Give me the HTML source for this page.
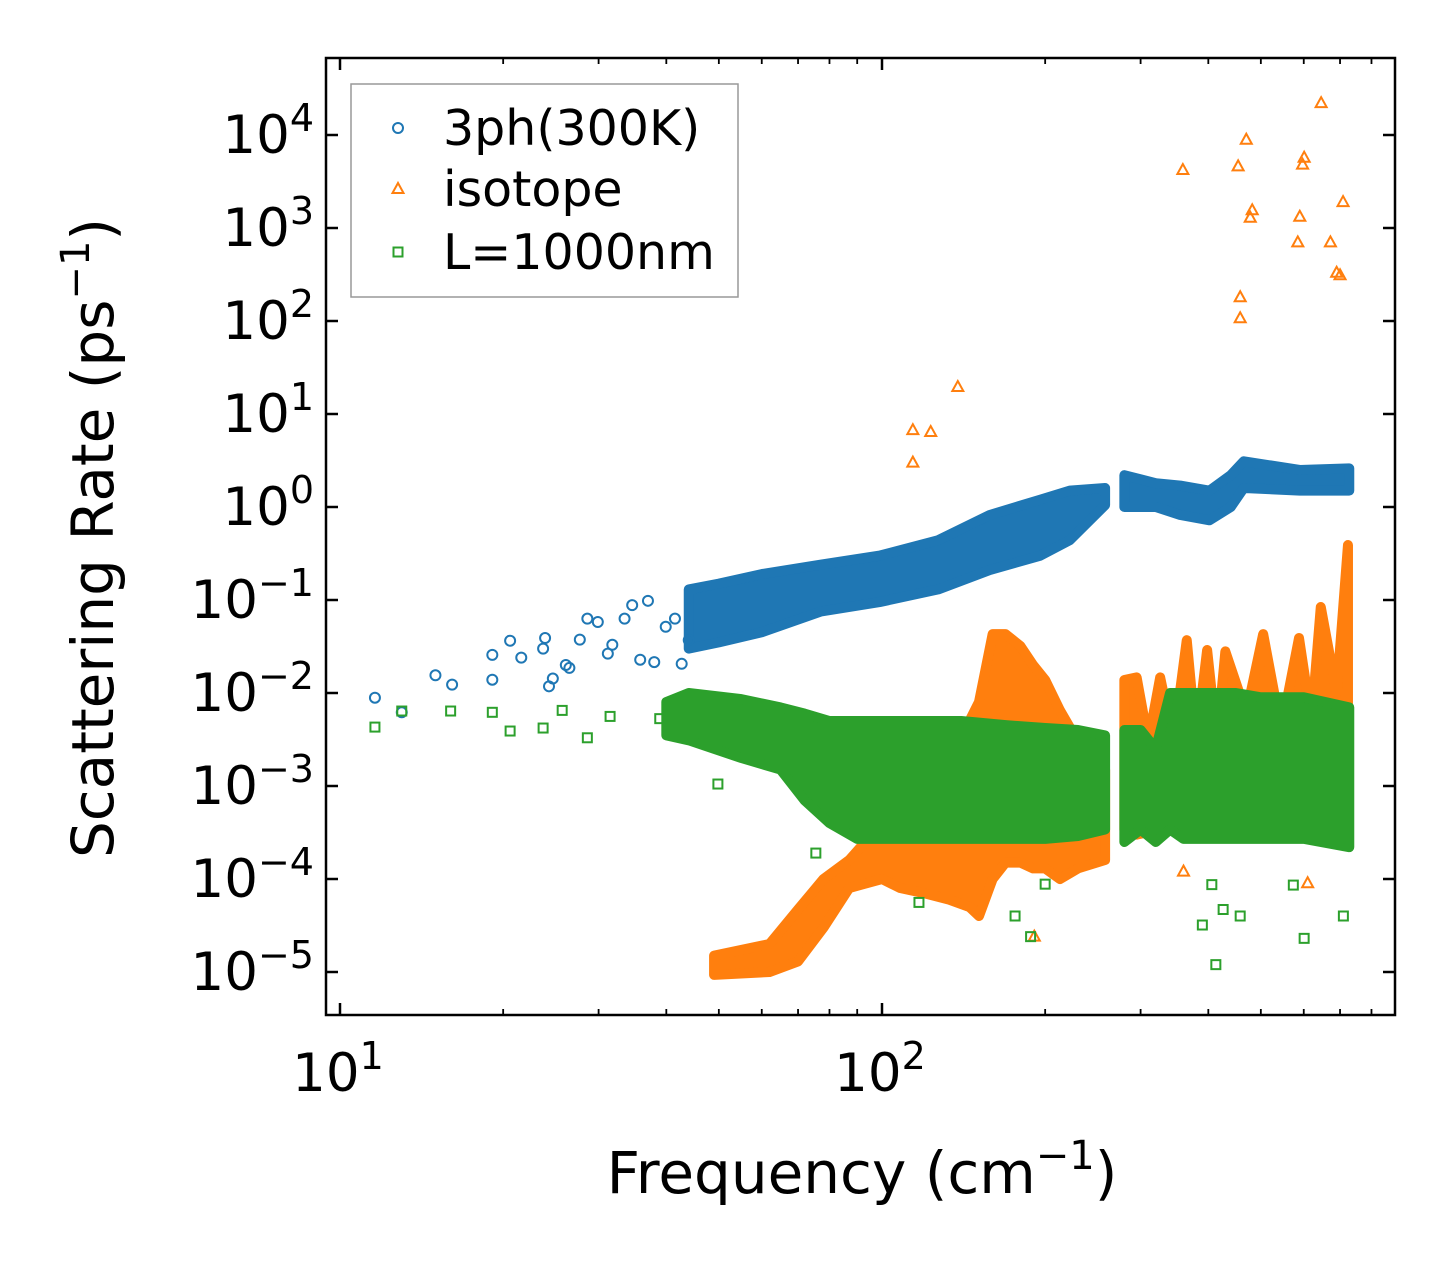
<!DOCTYPE html>
<html><head><meta charset="utf-8"><style>
body{margin:0;background:#fff;}
svg{display:block;font-family:"DejaVu Sans","Liberation Sans",sans-serif;}
</style></head><body>
<svg id="chart" width="1455" height="1265" viewBox="0 0 1455 1265"></svg>
<script>
// ---- data ----
const blueFreq=[11.6,13,15,16.1,19.1,19.1,20.6,21.6,23.7,23.9,24.3,24.7,26.1,26.5,27.7,28.6,29.9,31.2,31.8,33.5,34.6,35.8,38,37,39.9,42.7,41.5,44];
const blueVal=[0.0089,0.0062,0.0155,0.0123,0.0139,0.0257,0.0365,0.024,0.030,0.039,0.0118,0.0143,0.020,0.0186,0.0375,0.063,0.058,0.0265,0.033,0.063,0.088,0.0228,0.0215,0.098,0.0515,0.0206,0.063,0.037];
const blueBandFreq=[[44,50,60,77,99,127,158,196,222,258],[280,320,355,402,440,465,590,728]];
const blueBandLo=[[0.03,0.035,0.045,0.075,0.095,0.13,0.21,0.30,0.44,1.05],[1.0,1.0,0.82,0.72,1.0,1.6,1.5,1.5]];
const blueBandHi=[[0.13,0.15,0.19,0.24,0.30,0.44,0.82,1.2,1.5,1.6],[2.2,1.8,1.7,1.5,2.2,3.1,2.5,2.6]];
const orangeFreq=[114,123,114,138,359,454,470,482,478,646,601,597,590,585,709,672,690,700,458,458,191,360,610];
const orangeVal=[6.7,6.4,3.0,19.5,4200,4600,8900,1550,1290,22000,5700,4800,1320,700,1900,700,330,310,180,107,2.4e-5,1.2e-4,9e-5];
const orangeBandFreq=[[49,62,70,78,87,100,108,120,133,145,151,160,169,180,190,200,213,230,258],[280,295,310,326,345,365,380,398,415,430,470,505,545,588,620,645,690,724]];
const orangeBandLo=[[9.3e-6,1.0e-5,1.3e-5,3e-5,8e-5,1e-4,8e-5,7e-5,6e-5,5e-5,4e-5,1e-4,1.5e-4,1.5e-4,1.3e-4,1.3e-4,1e-4,1.3e-4,1.6e-4],[3.4e-4,3e-4,3.2e-4,3.4e-4,3.4e-4,3.4e-4,3.4e-4,3.3e-4,3.4e-4,3.4e-4,3.4e-4,3.4e-4,3.4e-4,3.4e-4,3.4e-4,3.4e-4,3.4e-4,3.4e-4]];
const orangeBandHi=[[1.5e-5,2e-5,4.7e-5,1e-4,1.6e-4,4e-4,1.2e-3,2.5e-3,3.8e-3,5e-3,8e-3,0.043,0.043,0.032,0.02,0.0138,0.0065,3e-3,1.5e-3],[0.0138,0.0147,3e-3,0.0147,3e-3,0.037,0.003,0.029,0.003,0.028,0.006,0.043,0.004,0.039,0.005,0.084,0.01,0.39]];
const greenFreq=[11.6,13,16,19.1,20.6,23.7,25.7,28.6,31.5,38.9,49.8,75.5,117,176,188,200,413,601,710,426,390,458,406,574];
const greenVal=[4.3e-3,6.4e-3,6.4e-3,6.2e-3,3.9e-3,4.2e-3,6.5e-3,3.3e-3,5.6e-3,5.3e-3,1.05e-3,1.9e-4,5.6e-5,4e-5,2.4e-5,8.8e-5,1.2e-5,2.3e-5,4e-5,4.7e-5,3.2e-5,4e-5,8.7e-5,8.6e-5];
const greenBandFreq=[[40,44,55,65,72,80,90,110,140,170,200,230,258],[280,300,320,340,360,400,450,500,600,728]];
const greenBandLo=[[3.5e-3,3.1e-3,2e-3,1.5e-3,7e-4,4e-4,2.7e-4,2.7e-4,2.7e-4,2.7e-4,2.7e-4,2.9e-4,3.4e-4],[2.5e-4,3.4e-4,2.5e-4,3.4e-4,2.7e-4,2.7e-4,2.7e-4,2.7e-4,2.7e-4,2.2e-4]];
const greenBandHi=[[8e-3,1e-2,8.6e-3,7e-3,6e-3,5e-3,5e-3,5e-3,5e-3,4.5e-3,4.2e-3,4e-3,3.5e-3],[4e-3,4e-3,2.5e-3,1e-2,1e-2,1e-2,1e-2,9e-3,9e-3,7e-3]];
const xTickLabels=["1","2"];
const yTickExps=[4,3,2,1,0,-1,-2,-3,-4,-5];

// ---- axes ----
const L=326,R=1395,T=58,B=1015;
const X0=340,DX=542,Y0=135,DY=93;
const xs=f=>X0+(Math.log10(f)-1)*DX;
const ys=v=>Y0+(4-Math.log10(v))*DY;
const NS="http://www.w3.org/2000/svg";
const svg=document.getElementById('chart');
function mk(tag,attrs,parent){const e=document.createElementNS(NS,tag);for(const k in attrs)e.setAttribute(k,attrs[k]);(parent||svg).appendChild(e);return e;}
const C={b:"#1f77b4",o:"#ff7f0e",g:"#2ca02c"};

const defs=mk('defs',{});const cp=mk('clipPath',{id:'clip'},defs);mk('rect',{x:L,y:T,width:R-L,height:B-T},cp);
const plot=mk('g',{'clip-path':'url(#clip)'});



function marker(kind,cx,cy,col,g){
  if(kind==='c') return mk('circle',{cx:cx,cy:cy,r:5,fill:'none',stroke:col,'stroke-width':2},g);
  if(kind==='t') return mk('polygon',{points:`${cx},${cy-6} ${cx-5.5},${cy+4} ${cx+5.5},${cy+4}`,fill:'none',stroke:col,'stroke-width':2},g);
  return mk('rect',{x:cx-4.5,y:cy-4.5,width:9,height:9,fill:'none',stroke:col,'stroke-width':2},g);
}
function band(freqs,lo,hi,col,g,name){
  freqs.forEach((fr,i)=>{
    const pts=fr.map((f,j)=>xs(f)+','+ys(hi[i][j])).concat(fr.slice().reverse().map((f,j)=>xs(f)+','+ys(lo[i][fr.length-1-j])));
    const p=mk('polygon',{points:pts.join(' '),fill:col,stroke:col,'stroke-width':10,'stroke-linejoin':'round'},g);
    
    
  });
}
function series(name,kind,col,fx,vy,bf,bl,bh){
  const g=mk('g',{},plot);
  
  
  band(bf,bl,bh,col,g,name);
  fx.forEach((f,i)=>{const m=marker(kind,xs(f),ys(vy[i]),col,g);
    
    });
}
series('3ph','c',C.b,blueFreq,blueVal,blueBandFreq,blueBandLo,blueBandHi);
series('isotope','t',C.o,orangeFreq,orangeVal,orangeBandFreq,orangeBandLo,orangeBandHi);
series('boundary','s',C.g,greenFreq,greenVal,greenBandFreq,greenBandLo,greenBandHi);

const fr=mk('rect',{x:L,y:T,width:R-L,height:B-T,fill:'none',stroke:'#000','stroke-width':2.5});


const tg=mk('g',{stroke:'#000'});


for(let d=1;d<=2;d++){for(let k=1;k<10;k++){const f=k*Math.pow(10,d);const x=xs(f);if(x<L||x>R)continue;const len=k===1?12:6;const w=k===1?2.5:1.8;
  mk('line',{x1:x,y1:B,x2:x,y2:B-len,'stroke-width':w},tg);mk('line',{x1:x,y1:T,x2:x,y2:T+len,'stroke-width':w},tg);}}
yTickExps.forEach(e=>{const y=ys(Math.pow(10,e));
  mk('line',{x1:L,y1:y,x2:L+12,y2:y,'stroke-width':2.5},tg);mk('line',{x1:R,y1:y,x2:R-12,y2:y,'stroke-width':2.5},tg);
  const t=mk('text',{x:314,y:y+18,'text-anchor':'end','font-size':53,fill:'#000'});
  
  
  t.textContent='10';const s=mk('tspan',{dy:-22,'font-size':38},t);s.textContent=(e<0?'\u2212'+(-e):''+e);
});
xTickLabels.forEach((lab,i)=>{const x=xs(Math.pow(10,i+1));
  const t=mk('text',{x:x-2,y:1091,'text-anchor':'middle','font-size':53,fill:'#000'});
  
  
  t.textContent='10';const s=mk('tspan',{dy:-22,'font-size':38},t);s.textContent=lab;});
const xt=mk('text',{x:862,y:1193,'text-anchor':'middle','font-size':58,fill:'#000'});


xt.innerHTML='Frequency (cm<tspan dy="-24" font-size="40">\u22121</tspan><tspan dy="24">)</tspan>';
const yt=mk('text',{x:0,y:0,'text-anchor':'middle','font-size':58,fill:'#000',transform:'translate(113,538) rotate(-90)'});


yt.innerHTML='Scattering Rate (ps<tspan dy="-24" font-size="40">\u22121</tspan><tspan dy="24">)</tspan>';
const lg=mk('g',{});


mk('rect',{x:351,y:84,width:387,height:213,fill:'#fff',stroke:'#999','stroke-width':1.5},lg);
[['3ph(300K)','c',C.b,128],['isotope','t',C.o,189],['L=1000nm','s',C.g,252]].forEach(([lab,k,c,y])=>{
  const e=mk('g',{},lg);
  
  
  marker(k,398,y,c,e);
  const t=mk('text',{x:443,y:y+17,'font-size':49,fill:'#000'},e);t.textContent=lab;});
</script>
</body></html>
